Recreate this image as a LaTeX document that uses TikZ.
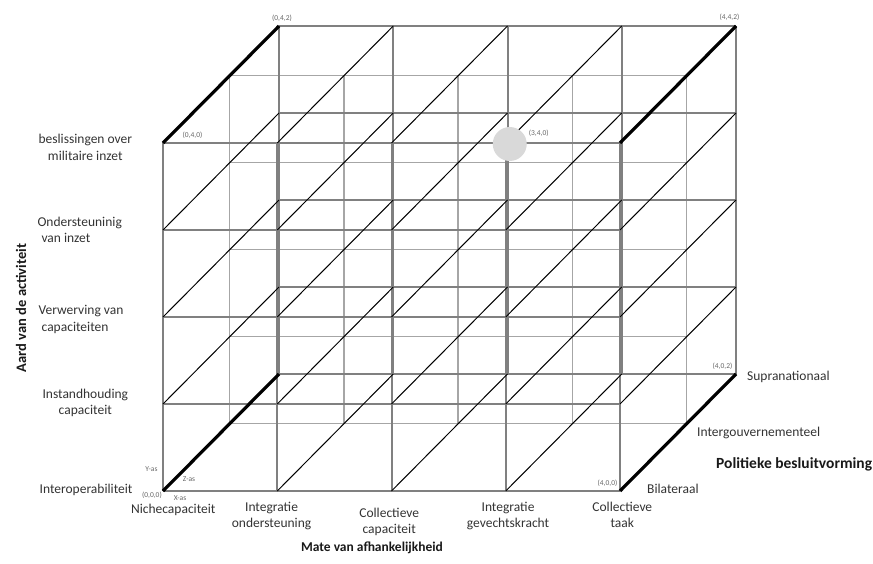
\documentclass[tikz,border=0pt]{standalone}
\usepackage{fontspec}
\setmainfont{Carlito}
\begin{document}
\begin{tikzpicture}[x={(114.25pt,0pt)}, y={(0pt,87pt)}, z={(58pt,58.5pt)}, line join=round]
	\tikzset{label style/.style={font=\fontsize{13.5}{16.5}\selectfont, text=black!80, inner sep=0pt, align=center},
		corner style/.style={font=\fontsize{7.5}{8}\selectfont, text=black!60, inner sep=0pt},
		axis style/.style={font=\fontsize{13.5}{16}\selectfont\bfseries, text=black!90, inner sep=0pt},
		face/.style={draw=black!50, line width=2pt},
		mid/.style={draw=black!35, line width=1.5pt},
		zline/.style={draw=black, line width=1pt},
		zaxis/.style={draw=black, line width=3.2pt}}
	\useasboundingbox (-163pt,-72pt) rectangle (710pt,491pt);
	% the three planes
	\foreach \z/\s in {1.15/mid, 2/face, 0/face}
	\foreach \i in {0,...,4} {
		\draw[\s] (\i,0,\z) -- (\i,4,\z);
		\draw[\s] (0,\i,\z) -- (4,\i,\z);
	}
	% lines along the z-axis
	\foreach \i in {0,...,4}
	\foreach \j in {0,...,4}
	\draw[zline] (\i,\j,0) -- (\i,\j,2);
	\foreach \i/\j in {0/0,0/4,4/4,4/0}
	\draw[zaxis] (\i,\j,0) -- (\i,\j,2);
	\node[circle, fill=black!15, minimum size=34pt, inner sep=0pt, xshift=4pt, yshift=-1pt] (punt) at (3,4,0) {};
	% corner labels
	\node[corner style, anchor=north east, xshift=-1pt, yshift=-1pt] (c000) at (0,0,0) {(0,0,0)};
	\node[corner style] (xas) at (17pt,-7pt) {X-as};
	\node[corner style] (zas) at (26pt,12pt) {Z-as};
	\node[corner style] (yas) at (-11.5pt,22pt) {Y-as};
	\node[corner style, xshift=29.5pt, yshift=8pt] (c040) at (0,4,0) {(0,4,0)};
	\node[corner style, xshift=3pt, yshift=8pt] (c042) at (0,4,2) {(0,4,2)};
	\node[corner style, xshift=-6.5pt, yshift=9pt] (c442) at (4,4,2) {(4,4,2)};
	\node[corner style, xshift=33pt, yshift=10pt] (c340) at (3,4,0) {(3,4,0)};
	\node[corner style, xshift=-12.5pt, yshift=8pt] (c400) at (4,0,0) {(4,0,0)};
	\node[corner style, xshift=-13.5pt, yshift=8pt] (c402) at (4,0,2) {(4,0,2)};
	% y categories
	\node[label style] (beslis) at (-0.68,3.95) {beslissingen over\\militaire inzet};
	\node[label style, align=left, anchor=west] (onderst) at (-1.1,3.0) {Ondersteuninig\\\hspace*{4pt}van inzet};
	\node[label style, align=left, anchor=west] (verwerv) at (-1.09,1.97) {Verwerving van\\\hspace*{3pt}capaciteiten};
	\node[label style] (instand) at (-0.68,1.01) {Instandhouding\\capaciteit};
	\node[label style, anchor=east] (interop) at (-0.265,0.01) {Interoperabiliteit};
	% x categories
	\node[label style, anchor=north] (niche) at (0.09,-0.15) {Nichecapaciteit};
	\node[label style, anchor=north] (integrond) at (0.95,-0.125) {Integratie\\ondersteuning};
	\node[label style, anchor=north] (collcap) at (1.98,-0.19) {Collectieve\\capaciteit};
	\node[label style, anchor=north] (integrgev) at (3.02,-0.125) {Integratie\\gevechtskracht};
	\node[label style, anchor=north] (colltaak) at (4.02,-0.125) {Collectieve\\taak};
	% z categories
	\node[label style, anchor=west, xshift=27pt, yshift=2pt] (bilat) at (4,0,0) {Bilateraal};
	\node[label style, anchor=west, xshift=19pt] (intergouv) at (4,0,1) {Intergouvernementeel};
	\node[label style, anchor=west, xshift=11pt, yshift=-3pt] (supra) at (4,0,2) {Supranationaal};
	% axis titles
	\node[axis style, font=\fontsize{14.5}{16}\selectfont\bfseries, rotate=90] (aard) at (-142pt,183pt) {Aard van de activiteit};
	\node[axis style] (mate) at (209pt,-57pt) {Mate van afhankelijkheid};
	\node[axis style, font=\fontsize{15.5}{18}\selectfont\bfseries, anchor=west] (polit) at (553pt,27pt) {Politieke besluitvorming};
\end{tikzpicture}
\end{document}
